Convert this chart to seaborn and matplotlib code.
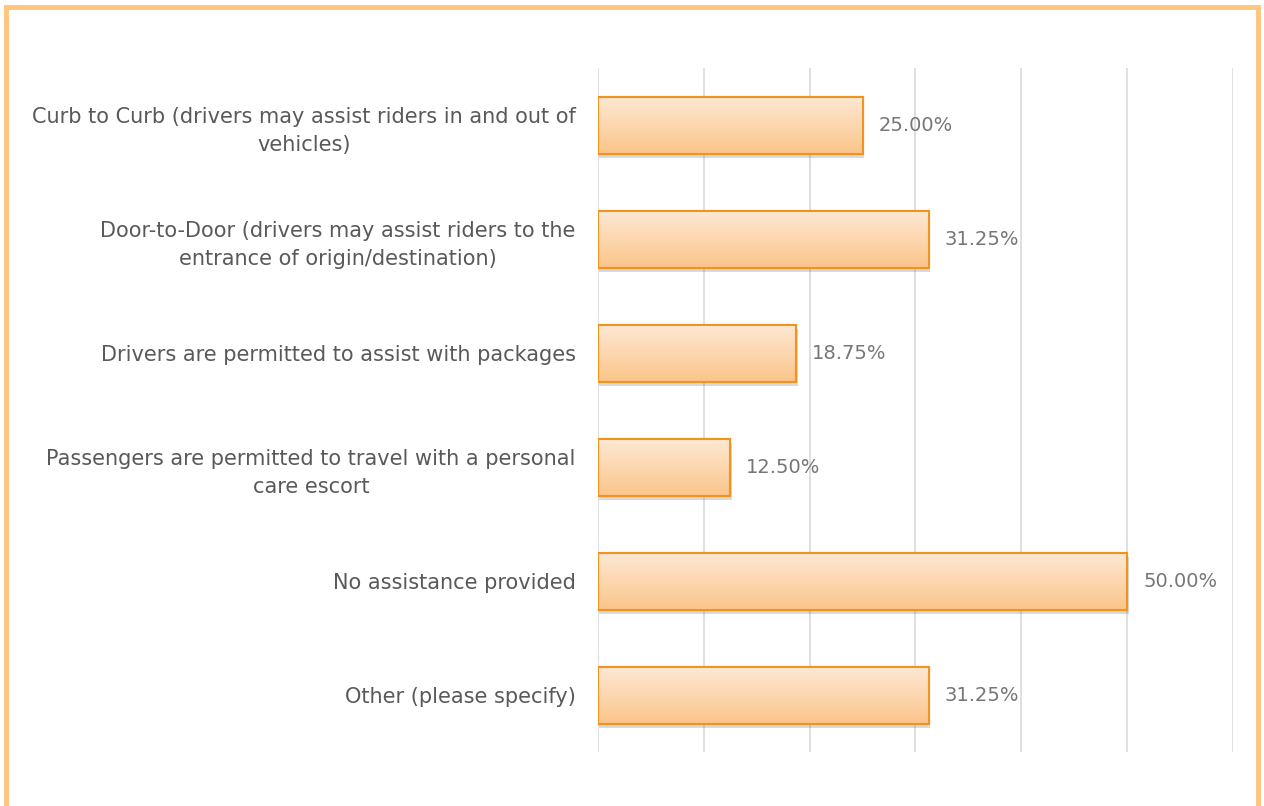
import numpy as np
import pandas as pd
import seaborn as sns
import matplotlib.pyplot as plt
import matplotlib.patheffects as pe
from matplotlib.patches import Rectangle
from matplotlib.colors import LinearSegmentedColormap

categories = [
    'Curb to Curb (drivers may assist riders in and out of\nvehicles)',
    'Door-to-Door (drivers may assist riders to the\nentrance of origin/destination)',
    'Drivers are permitted to assist with packages',
    'Passengers are permitted to travel with a personal\ncare escort',
    'No assistance provided',
    'Other (please specify)',
]
shares = [0.25, 0.3125, 0.1875, 0.125, 0.50, 0.3125]
share_labels = ['25.00%', '31.25%', '18.75%', '12.50%', '50.00%', '31.25%']

df = pd.DataFrame({'category': categories, 'share': shares})

sns.set_theme(style='white')
plt.rcParams['font.family'] = ['DejaVu Sans']

fig = plt.figure(figsize=(12.64, 8.06), dpi=100)
ax = fig.add_axes([0.473, 0.067, 0.5025, 0.8485])

sns.barplot(data=df, x='share', y='category', orient='h', width=0.5,
            color='#fcd3a6', edgecolor='#f0931f', linewidth=1.5, ax=ax)

# gradient fill + soft shadow, like the office chart
grad = LinearSegmentedColormap.from_list('g', ['#fde8d3', '#fbc58a'])
for p in ax.patches:
    p.set_path_effects([pe.SimplePatchShadow(offset=(1, -3), alpha=0.22, shadow_rgbFace='#555555'), pe.Normal()])
    x0, y0 = p.get_x(), p.get_y()
    w, h = p.get_width(), p.get_height()
    im = ax.imshow(np.linspace(0, 1, 100).reshape(-1, 1), cmap=grad, aspect='auto',
                   extent=(x0, x0 + w, y0 + h, y0), origin='upper', zorder=p.get_zorder() + 0.1)
    im.set_clip_path(p)
    ax.add_patch(Rectangle((x0, y0), w, h, fill=False, edgecolor='#f0931f', linewidth=1.5,
                           zorder=p.get_zorder() + 0.2))

for i, (v, lab) in enumerate(zip(shares, share_labels)):
    ax.text(v + 0.015, i, lab, va='center', ha='left', fontsize=14, color='#767676')

ax.set_xlim(0, 0.6)
ax.set_ylim(5.5, -0.5)
ax.set_xticks(np.arange(0, 0.61, 0.1))
ax.set_xticklabels([])
ax.grid(axis='x', color='#d9d9d9', linewidth=1.2)
ax.set_axisbelow(True)
for s in ax.spines.values():
    s.set_visible(False)
ax.tick_params(axis='y', length=0, pad=16, labelsize=15, labelcolor='#595959')
for t in ax.get_yticklabels():
    t.set_multialignment('center')
    t.set_linespacing(1.5)
ax.set_xlabel('')
ax.set_ylabel('')

fig.patches.append(Rectangle((6 / 1264, -0.05), 1252 / 1264, 1 - 7 / 806 + 0.05,
                             transform=fig.transFigure, fill=False,
                             edgecolor='#ffc67c', linewidth=3.5))

fig.savefig('out.png', dpi=100)
